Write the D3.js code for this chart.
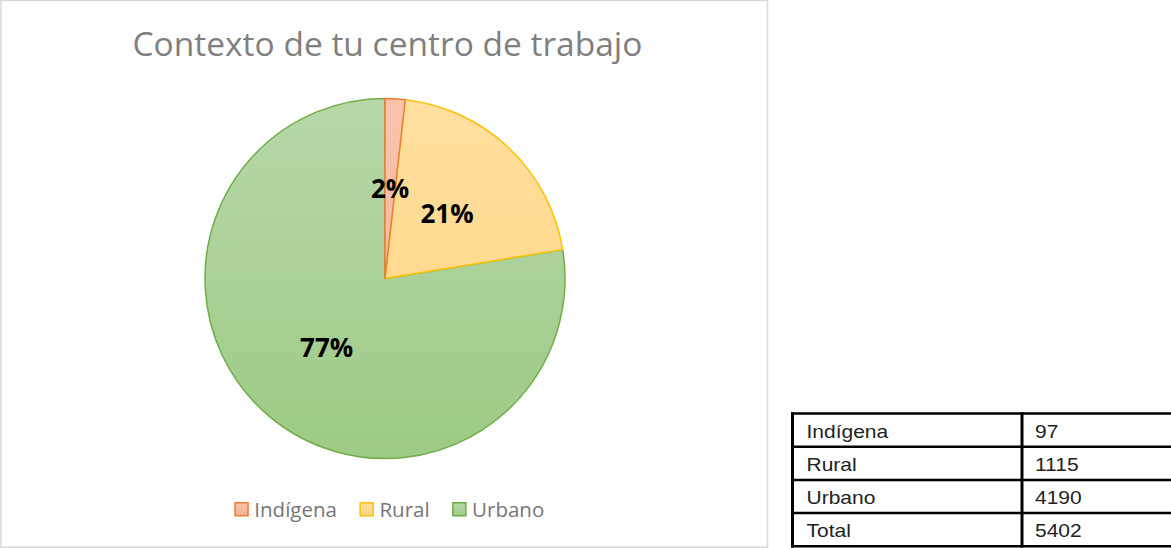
<!DOCTYPE html>
<html>
<head>
<meta charset="utf-8">
<script src="https://cdn.jsdelivr.net/npm/d3@7"></script>
<style>
html,body{margin:0;padding:0;background:#fff;}
svg{display:block;}
</style>
</head>
<body>
<svg id="chart" width="1171" height="548"></svg>
<script>
const title = "Contexto de tu centro de trabajo";
const categories = ["Indígena", "Rural", "Urbano"];
const values = [97, 1115, 4190];
const pctLabels = ["2%", "21%", "77%"];
const totalLabel = "Total";
const totalValue = 5402;

const fillTop = ["#f8c3ad", "#ffe09f", "#b7d8a9"];
const fillBottom = ["#f4b298", "#ffd37f", "#9dca85"];
const strokes = ["#ed7d31", "#ffc000", "#70ad47"];

const svg = d3.select("#chart");
svg.append("rect").attr("width", 1171).attr("height", 548).attr("fill", "#fff");

// chart frame
svg.append("rect").attr("x", 1).attr("y", 0.5).attr("width", 766.5).attr("height", 546.5)
  .attr("fill", "#fff").attr("stroke", "#d9d9d9").attr("stroke-width", 1.5);

// title
svg.append("text").attr("x", 387.5).attr("y", 56).attr("text-anchor", "middle")
  .attr("font-family", "'Open Sans', sans-serif").attr("font-size", 33.5)
  .attr("fill", "#7f7f7f").text(title);

const cx = 385, cy = 278.5, R = 180;
const defs = svg.append("defs");
categories.forEach((c, i) => {
  const g = defs.append("linearGradient").attr("id", "grad" + i)
    .attr("gradientUnits", "userSpaceOnUse")
    .attr("x1", 0).attr("y1", -R).attr("x2", 0).attr("y2", R);
  g.append("stop").attr("offset", "0").attr("stop-color", fillTop[i]);
  g.append("stop").attr("offset", "1").attr("stop-color", fillBottom[i]);
  const gl = defs.append("linearGradient").attr("id", "lgrad" + i)
    .attr("x1", 0).attr("y1", 0).attr("x2", 0).attr("y2", 1);
  gl.append("stop").attr("offset", "0").attr("stop-color", fillTop[i]);
  gl.append("stop").attr("offset", "1").attr("stop-color", fillBottom[i]);
});

const pie = d3.pie().sort(null).value(d => d);
const arcs = pie(values);
const arc = d3.arc().innerRadius(0).outerRadius(R);
const pg = svg.append("g").attr("transform", `translate(${cx},${cy})`);
const order = [2, 1, 0];
order.forEach(i => {
  pg.append("path").attr("d", arc(arcs[i]))
    .attr("fill", `url(#grad${i})`)
    .attr("stroke", strokes[i]).attr("stroke-width", 1.5)
    .attr("stroke-linejoin", "round");
});
arcs.forEach((a, i) => {
  const [x, y] = arc.centroid(a);
  pg.append("text").attr("x", x).attr("y", y + 9.5).attr("text-anchor", "middle")
    .attr("font-family", "'Open Sans', sans-serif").attr("font-weight", "bold")
    .attr("font-size", 26).attr("fill", "#000").text(pctLabels[i]);
});

// legend
const lg = svg.append("g");
let lx = 234.3;
categories.forEach((c, i) => {
  lg.append("rect").attr("x", lx + 0.75).attr("y", 502.75).attr("width", 13).attr("height", 13)
    .attr("fill", `url(#lgrad${i})`).attr("stroke", strokes[i]).attr("stroke-width", 1.5);
  const t = lg.append("text").attr("x", lx + 20).attr("y", 517)
    .attr("font-family", "'Open Sans', sans-serif").attr("font-size", 20.5)
    .attr("fill", "#767676").text(c);
  const w = t.node().getComputedTextLength();
  lx = lx + 20 + w + 22.5;
});

// table
const rows = categories.map((c, i) => [c, String(values[i])]).concat([[totalLabel, String(totalValue)]]);
const tx0 = 792.5, tx1 = 1022, tx2 = 1172, ty0 = 413.5, rh = 33.2;
const tg = svg.append("g");
const yScale = d3.scaleLinear().domain([0, rows.length]).range([ty0, ty0 + rh * rows.length]);
rows.forEach((r, i) => {
  const yb = yScale(i) + 24;
  [[tx0 + 14, r[0]], [tx1 + 13, r[1]]].forEach(([x, s]) => {
    tg.append("text").attr("transform", `translate(${x},${yb}) scale(1.2,1)`)
      .attr("font-family", "'Liberation Sans', Arial, sans-serif").attr("font-size", 17.5)
      .attr("fill", "#222").text(s);
  });
});
for (let i = 0; i <= rows.length; i++) {
  tg.append("line").attr("x1", tx0 - 1.5).attr("x2", tx2)
    .attr("y1", yScale(i)).attr("y2", yScale(i)).attr("stroke", "#000").attr("stroke-width", 2.5);
}
[tx0, tx1].forEach(x => {
  tg.append("line").attr("x1", x).attr("x2", x).attr("y1", ty0 - 1.2).attr("y2", yScale(rows.length) + 1.2)
    .attr("stroke", "#000").attr("stroke-width", 3);
});
</script>
</body>
</html>
